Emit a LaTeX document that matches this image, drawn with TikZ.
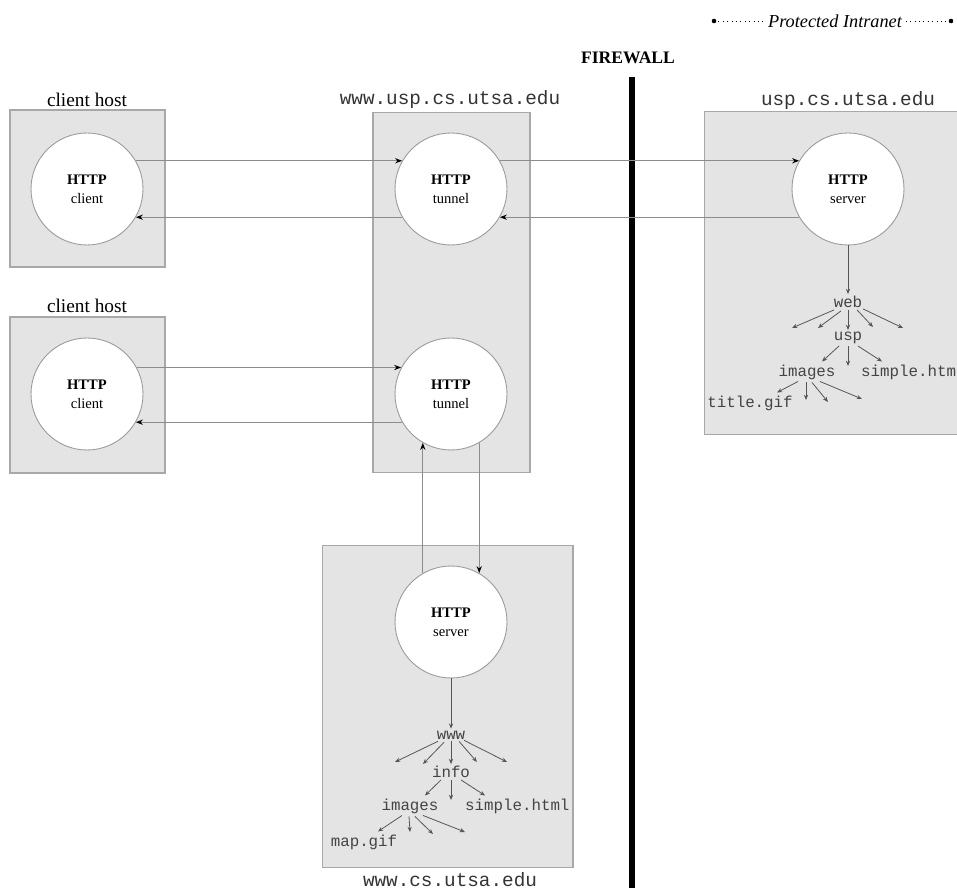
\documentclass[tikz,border=0pt]{standalone}
\usepackage{fontspec}
\setmainfont{Liberation Serif}
\newfontfamily\monof{Liberation Mono}
\usetikzlibrary{arrows.meta,calc}
\definecolor{boxfill}{HTML}{E4E4E4}
\definecolor{boxline}{HTML}{A8A8A8}
\definecolor{circline}{HTML}{9A9A9A}
\definecolor{linkc}{HTML}{8C8C8C}
\definecolor{treeline}{HTML}{555555}
\definecolor{treetext}{HTML}{444444}
\begin{document}
\begin{tikzpicture}[x=0.02cm,y=-0.02cm,
 hostbox/.style={draw=boxline, fill=boxfill, line width=0.6pt, inner sep=0pt},
 proc/.style={circle, draw=circline, fill=white, minimum size=2.24cm, inner sep=0pt, align=center, font=\fontsize{8.3}{11}\selectfont, line width=0.5pt},
 link/.style={draw=linkc, line width=0.6pt, -{Stealth[length=4pt,width=3pt,color=black]}},
 hostlab/.style={font=\fontsize{11}{13}\selectfont, inner sep=1pt},
 dnslab/.style={font=\monof\fontsize{11}{13}\selectfont, inner sep=1pt, text=black!80},
 tlab/.style={font=\monof\fontsize{9}{10}\selectfont, inner sep=1pt, text=treetext},
 tarr/.style={draw=treeline, line width=0.45pt, -{Stealth[length=3pt,width=2.4pt]}},
]
\useasboundingbox (0,0) rectangle (957,888);

% Protected intranet banner
\node[font=\itshape\fontsize{10.4}{12}\selectfont, inner sep=2pt] (pi) at (835,21) {Protected Intranet};
\coordinate (pil) at (714,21);
\coordinate (pir) at (951,21);
\fill (pil) circle (1.3pt);
\fill (pir) circle (1.3pt);
\draw[dotted, line width=0.5pt] (pil) -- (pi.west);
\draw[dotted, line width=0.5pt] (pi.east) -- (pir);

% Firewall
\node[font=\bfseries\fontsize{10}{12}\selectfont] (fwlab) at (628,58) {FIREWALL};
\coordinate (fwtop) at (632,77);
\coordinate (fwbot) at (632,888);
\draw[line width=3.4pt] (fwtop) -- (fwbot);

% Boxes
\node[hostbox, minimum width=3.1cm, minimum height=3.14cm] (cb1) at (87.5,188.5) {};
\node[hostbox, minimum width=3.1cm, minimum height=3.12cm] (cb2) at (87.5,395) {};
\node[hostbox, minimum width=3.14cm, minimum height=7.22cm] (tb) at (451.5,292.5) {};
\node[fill=boxfill, inner sep=0pt, minimum width=5.04cm, minimum height=6.44cm] (rb) at (831,273) {};
\draw[boxline, line width=0.6pt] (rb.north east) -- (rb.north west) -- (rb.south west) -- (rb.south east);
\node[hostbox, minimum width=5.02cm, minimum height=6.46cm] (bb) at (447.5,706.5) {};

% Box labels
\node[hostlab] (cl1) at (87,100) {client host};
\node[hostlab] (cl2) at (87,306) {client host};
\node[dnslab] (tl) at (450,100) {www.usp.cs.utsa.edu};
\node[dnslab] (rl) at (848,101) {usp.cs.utsa.edu};
\node[dnslab] (bl) at (450,880) {www.cs.utsa.edu};

% Processes
\node[proc] (c1) at (87,189) {\textbf{HTTP}\\client};
\node[proc] (c2) at (87,394) {\textbf{HTTP}\\client};
\node[proc] (t1) at (451,189) {\textbf{HTTP}\\tunnel};
\node[proc] (t2) at (451,394) {\textbf{HTTP}\\tunnel};
\node[proc] (s1) at (848,189) {\textbf{HTTP}\\server};
\node[proc] (s2) at (451,622) {\textbf{HTTP}\\server};

% Links
\draw[link] (c1.30) -- (t1.150);
\draw[link] (t1.30) -- (s1.150);
\draw[link] (s1.-150) -- (t1.-30);
\draw[link] (t1.-150) -- (c1.-30);
\draw[link] (c2.28) -- (t2.152);
\draw[link] (t2.-150) -- (c2.-30);
\draw[link] (s2.120) -- (t2.-120);
\draw[link] (t2.-60) -- (s2.60);

% Right tree
\node[tlab] (web) at (848,302) {web};
\node[tlab] (usp) at (848,338) {usp};
\node[tlab] (img1) at (807,372) {images};
\node[tlab, anchor=west] (sim1) at (859,372) {simple.htm};
\node[tlab] (tgif) at (750,403) {title.gif};
\draw[tarr] (s1.south) -- (web.north);
\coordinate (wa) at (792,328);
\coordinate (wb) at (818,328);
\coordinate (wd) at (873,327);
\coordinate (we) at (903,328);
\draw[tarr] ($(web.south)+(-14,0)$) -- (wa);
\draw[tarr] ($(web.south)+(-7,1)$) -- (wb);
\draw[tarr] (web.south) -- (usp.north);
\draw[tarr] ($(web.south)+(9,0)$) -- (wd);
\draw[tarr] ($(web.south)+(15,-1)$) -- (we);
\coordinate (uc) at (848,366);
\draw[tarr] ($(usp.south)+(-9,0)$) -- ($(img1.north)+(15,-1)$);
\draw[tarr] (usp.south) -- (uc);
\draw[tarr] ($(usp.south)+(10,0)$) -- ($(sim1.north west)+(23,-1)$);
\coordinate (ia) at (806,400);
\coordinate (ib) at (828,402);
\coordinate (ic) at (862,399);
\draw[tarr] ($(img1.south)+(-9,0)$) -- ($(tgif.north)+(27,-1)$);
\draw[tarr] ($(img1.south)+(-1,1)$) -- (ia);
\draw[tarr] ($(img1.south)+(5,1)$) -- (ib);
\draw[tarr] ($(img1.south)+(13,0)$) -- (ic);

% Bottom tree
\node[tlab] (www) at (451,735) {www};
\node[tlab] (info) at (451,772) {info};
\node[tlab] (img2) at (410,806) {images};
\node[tlab, anchor=west] (sim2) at (463,806) {simple.html};
\node[tlab] (mgif) at (364,842) {map.gif};
\draw[tarr] (s2.south) -- (www.north);
\coordinate (xa) at (395,762);
\coordinate (xb) at (423,764);
\coordinate (xd) at (477,762);
\coordinate (xe) at (507,762);
\draw[tarr] ($(www.south)+(-13,0)$) -- (xa);
\draw[tarr] ($(www.south)+(-7,1)$) -- (xb);
\draw[tarr] (www.south) -- (info.north);
\draw[tarr] ($(www.south)+(8,0)$) -- (xd);
\draw[tarr] ($(www.south)+(13,-1)$) -- (xe);
\coordinate (ic2) at (451,800);
\draw[tarr] ($(info.south)+(-10,0)$) -- ($(img2.north)+(15,-1)$);
\draw[tarr] (info.south) -- (ic2);
\draw[tarr] ($(info.south)+(10,0)$) -- ($(sim2.north west)+(22,-1)$);
\coordinate (ma) at (410,832);
\coordinate (mb) at (433,834);
\coordinate (mc) at (465,832);
\draw[tarr] ($(img2.south)+(-8,0)$) -- ($(mgif.north)+(14,-1)$);
\draw[tarr] ($(img2.south)+(-1,1)$) -- (ma);
\draw[tarr] ($(img2.south)+(5,1)$) -- (mb);
\draw[tarr] ($(img2.south)+(13,0)$) -- (mc);
\end{tikzpicture}
\end{document}
